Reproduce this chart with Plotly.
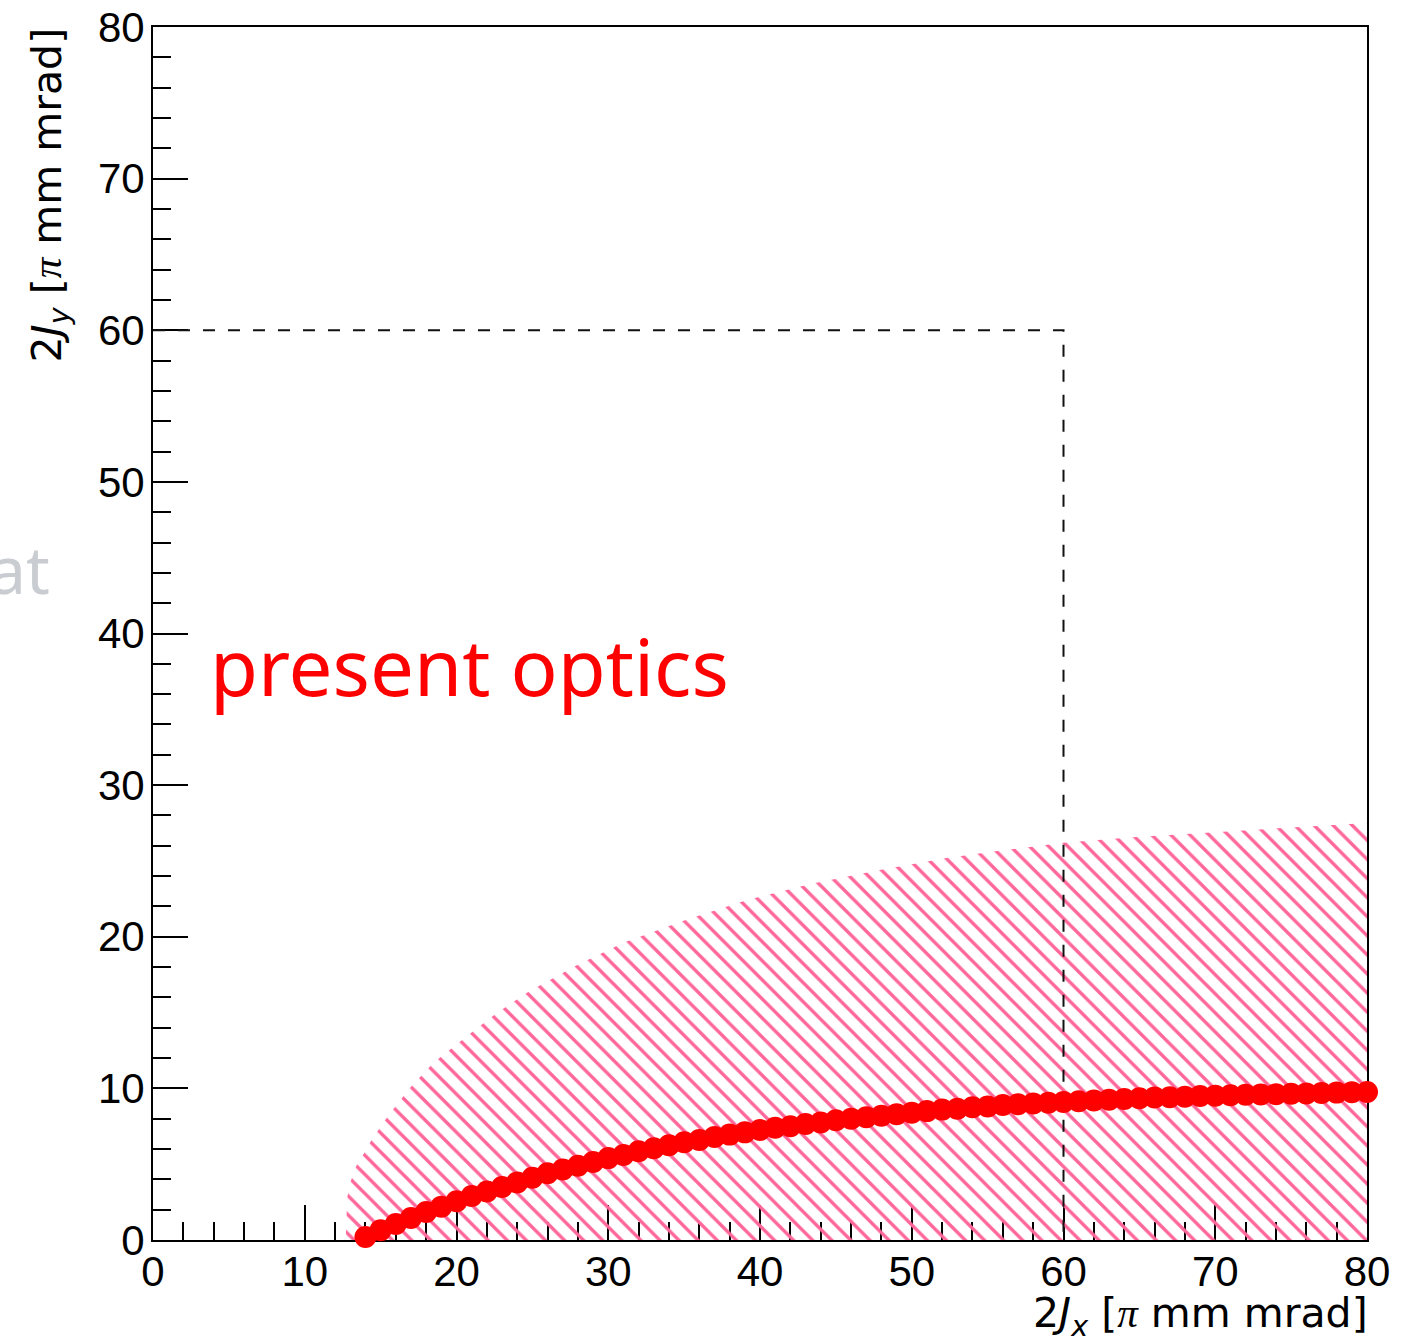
import plotly.graph_objects as go

# ---- data ----
curve_x = list(range(14, 81))
curve_y = [0.2, 0.65, 1.05, 1.45, 1.85, 2.2, 2.55, 2.9, 3.2, 3.5,
           3.8, 4.1, 4.4, 4.65, 4.9, 5.15, 5.4, 5.6, 5.85, 6.05,
           6.25, 6.45, 6.6, 6.8, 6.95, 7.1, 7.25, 7.4, 7.5, 7.65,
           7.75, 7.9, 8.0, 8.1, 8.2, 8.3, 8.4, 8.5, 8.6, 8.65,
           8.75, 8.8, 8.9, 8.95, 9.0, 9.05, 9.1, 9.15, 9.2, 9.25,
           9.3, 9.35, 9.4, 9.42, 9.45, 9.5, 9.52, 9.55, 9.58, 9.6,
           9.62, 9.65, 9.67, 9.7, 9.72, 9.74, 9.76]

band_x = [12.7, 12.8, 13.0, 13.4, 13.9, 14.4, 15.5, 17.0, 18.5, 20.0, 21.2, 22.7,
          24.8, 27.9, 31.0, 35.1, 39.1, 43.4, 47.9, 52.3, 56.0, 60.0, 65.0, 70.0,
          75.0, 80.0]
band_y = [0.0, 2.8, 3.8, 4.9, 5.7, 6.6, 8.2, 10.1, 11.7, 12.9, 13.85, 15.0,
          16.4, 18.1, 19.6, 21.1, 22.4, 23.5, 24.4, 25.2, 25.7, 26.2, 26.6, 26.9,
          27.2, 27.5]

box_x = [0, 60, 60]
box_y = [60, 60, 0]

xticks = [0, 10, 20, 30, 40, 50, 60, 70, 80]
yticks = [0, 10, 20, 30, 40, 50, 60, 70, 80]

W, H = 1406, 1342
ML, MR, MT, MB = 153, 39, 27, 102
PW, PH = W - ML - MR, H - MT - MB

def px_to_paper_x(px):
    return (px - ML) / PW

def px_to_paper_y(py):
    return (H - MB - py) / PH

fig = go.Figure()

# hatched band
fig.add_trace(go.Scatter(
    x=band_x + [band_x[-1], band_x[0]],
    y=band_y + [0, 0],
    mode="none", fill="toself",
    fillcolor="rgba(0,0,0,0)",
    fillpattern=dict(shape="\\", size=13.5, solidity=0.25,
                     fgcolor="#ff6699", bgcolor="rgba(0,0,0,0)", fgopacity=1),
    hoverinfo="skip", showlegend=False))

# dashed box
fig.add_trace(go.Scatter(
    x=box_x, y=box_y, mode="lines",
    line=dict(color="#111111", width=2, dash="12px,13px"),
    showlegend=False, hoverinfo="skip"))

# red markers
fig.add_trace(go.Scatter(
    x=curve_x, y=curve_y, mode="markers",
    marker=dict(color="#ff0000", size=22, line=dict(width=0)),
    cliponaxis=False, showlegend=False))

tickfont = dict(family="Liberation Sans, Arial, sans-serif", size=42, color="black")
common = dict(range=[0, 80], ticks="inside", ticklen=35, tickwidth=1.5, tickcolor="black",
              showline=True, linecolor="black", linewidth=2, mirror=True,
              showgrid=False, zeroline=False, layer="below traces",
              tickfont=tickfont, automargin=False,
              minor=dict(dtick=2, ticks="inside", ticklen=18, tickwidth=1.5,
                         tickcolor="black", showgrid=False))

fig.update_layout(
    width=W, height=H, autosize=False,
    margin=dict(l=ML, r=MR, t=MT, b=MB, pad=0),
    paper_bgcolor="white", plot_bgcolor="white",
    xaxis=dict(tickvals=xticks, ticktext=[str(v) for v in xticks],
               ticklabelstandoff=-6, **common),
    yaxis=dict(tickvals=yticks, ticktext=[str(v) for v in yticks],
               ticklabelstandoff=-2, **common),
)

pi = "<span style=\"font-family:'Liberation Serif'\"><i>π</i></span>"
title_font = dict(family="DejaVu Sans, sans-serif", size=41, color="black")

fig.add_annotation(text="2<i>J</i><sub><i>x</i></sub> [" + pi + " mm mrad]",
                   xref="paper", yref="paper", x=px_to_paper_x(1370), y=px_to_paper_y(1316),
                   xanchor="right", yanchor="middle", showarrow=False, font=title_font)
fig.add_annotation(text="2<i>J</i><sub><i>y</i></sub> [" + pi + " mm mrad]",
                   xref="paper", yref="paper", x=px_to_paper_x(50), y=px_to_paper_y(25),
                   xanchor="center", yanchor="top", textangle=-90,
                   showarrow=False, font=title_font)
fig.add_annotation(text="present optics", xref="paper", yref="paper",
                   x=px_to_paper_x(208), y=px_to_paper_y(666),
                   xanchor="left", yanchor="middle", showarrow=False,
                   font=dict(family="Noto Sans", size=78, color="#ff0000"))
fig.add_annotation(text="at", xref="paper", yref="paper",
                   x=px_to_paper_x(52), y=px_to_paper_y(568),
                   xanchor="right", yanchor="middle", showarrow=False,
                   font=dict(family="Noto Sans", size=66, color="#c9cdd1"))

fig.write_html("out.html")
